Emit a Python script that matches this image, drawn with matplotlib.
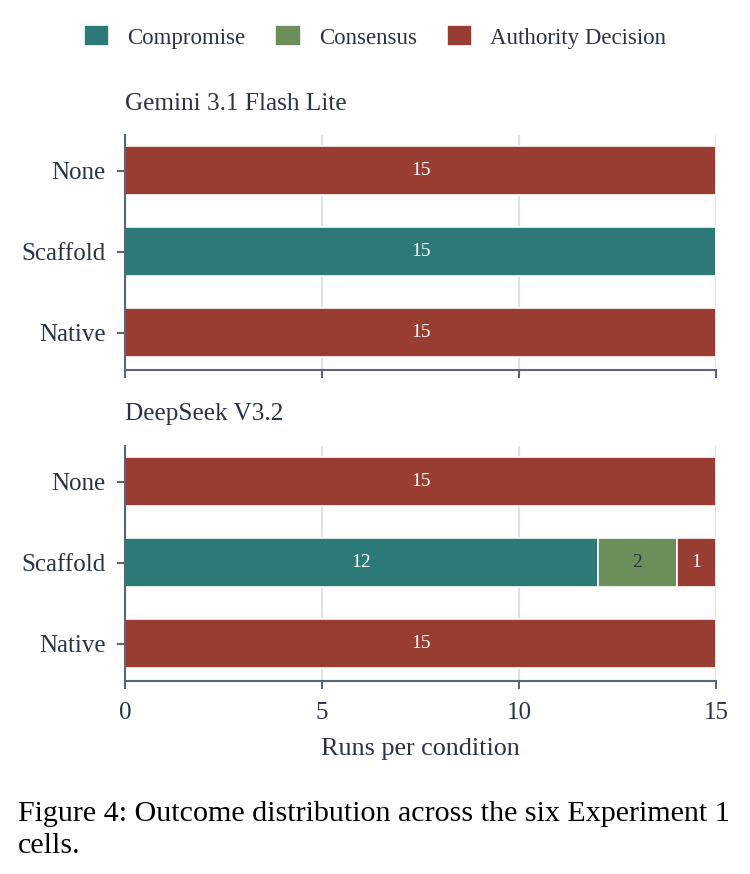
import matplotlib.pyplot as plt
import numpy as np

plt.rcParams['font.family'] = ['Liberation Serif', 'DejaVu Serif']

# data
conditions = ['Native', 'Scaffold', 'None']
outcomes = ['Compromise', 'Consensus', 'Authority Decision']
models = ['Gemini 3.1 Flash Lite', 'DeepSeek V3.2']

gemini_compromise = [0, 15, 0]
gemini_consensus = [0, 0, 0]
gemini_authority = [15, 0, 15]

deepseek_compromise = [0, 12, 0]
deepseek_consensus = [0, 2, 0]
deepseek_authority = [15, 1, 15]

x_ticks = [0, 5, 10, 15]

colors = ['#2c7a77', '#6b8e5a', '#993c31']
label_colors = ['white', '#2a3344', 'white']
text_color = '#2a3344'
spine_color = '#5b6578'
grid_color = '#dde2ea'

fig = plt.figure(figsize=(7.5, 8.74), dpi=100)

W, H = 750, 874
panels = [
    (models[0], [gemini_compromise, gemini_consensus, gemini_authority], 135, 370, 104),
    (models[1], [deepseek_compromise, deepseek_consensus, deepseek_authority], 446, 681, 414),
]

y = np.arange(len(conditions))
for i, (name, series, top_px, bot_px, title_px) in enumerate(panels):
    ax = fig.add_axes([125 / W, 1 - bot_px / H, 591 / W, (bot_px - top_px) / H])
    left = np.zeros(len(conditions))
    for k, vals in enumerate(series):
        vals = np.array(vals, dtype=float)
        bars = ax.barh(y, vals, left=left, height=0.6, color=colors[k],
                       edgecolor='white', linewidth=1.2, label=outcomes[k], zorder=2)
        for b, v in zip(bars, vals):
            if v > 0:
                ax.text(b.get_x() + b.get_width() / 2, b.get_y() + b.get_height() / 2,
                        f'{int(v)}', ha='center', va='center', color=label_colors[k],
                        fontsize=14)
        left += vals

    ax.set_xlim(0, 15)
    ax.set_ylim(-0.46, 2.44)
    ax.set_yticks(y)
    ax.set_yticklabels(conditions, fontsize=18, color=text_color)
    ax.set_xticks(x_ticks)
    ax.xaxis.grid(True, color=grid_color, linewidth=1.5, zorder=0)
    ax.set_axisbelow(True)
    for s in ['top', 'right']:
        ax.spines[s].set_visible(False)
    for s in ['left', 'bottom']:
        ax.spines[s].set_color(spine_color)
        ax.spines[s].set_linewidth(1.5)
    ax.tick_params(axis='both', colors=spine_color, width=1.5, length=6, labelcolor=text_color)
    ax.tick_params(axis='y', pad=8)
    ax.tick_params(axis='x', pad=9)
    if i == 0:
        ax.set_xticklabels([])
    else:
        ax.set_xticklabels([str(t) for t in x_ticks], fontsize=18)
        ax.set_xlabel('Runs per condition', fontsize=18.8, color=text_color, labelpad=10)

    fig.text(125 / W, 1 - title_px / H, name, ha='left', va='center',
             fontsize=18.2, color=text_color)

    if i == 0:
        handles, labels = ax.get_legend_handles_labels()

fig.legend(handles, labels, loc='center', bbox_to_anchor=(0.5, 1 - 37 / H), ncol=3,
           frameon=False, fontsize=16.5, handlelength=1.1, handleheight=1.0,
           columnspacing=1.3, handletextpad=0.8, labelcolor=text_color)

fig.text(18 / W, 1 - 830 / H, 'Figure 4: Outcome distribution across the six Experiment 1\ncells.',
         ha='left', va='center', fontsize=21.6, color='black', linespacing=1.28)

plt.savefig('out.png', dpi=100)
